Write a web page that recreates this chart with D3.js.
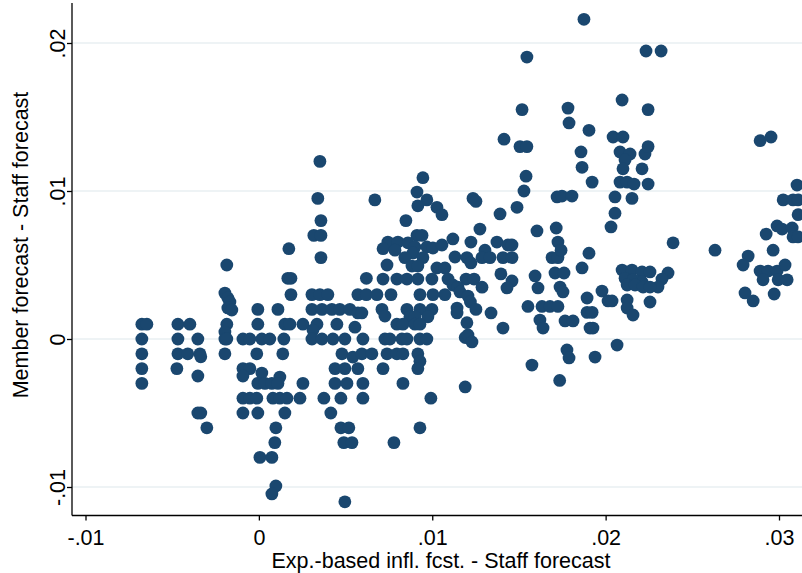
<!DOCTYPE html>
<html>
<head>
<meta charset="utf-8">
<script src="https://cdn.jsdelivr.net/npm/d3@7/dist/d3.min.js"></script>
<style>
  html, body { margin: 0; padding: 0; background: #fff; }
  svg { display: block; }
  text { font-family: "Liberation Sans", Arial, sans-serif; fill: #000; }
</style>
</head>
<body>
<svg id="chart" width="802" height="573"></svg>
<script>
// Tick values and labels
const xTicks = [-0.01, 0, 0.01, 0.02, 0.03];
const xTickLabels = ["-.01", "0", ".01", ".02", ".03"];
const yTicks = [-0.01, 0, 0.01, 0.02];
const yTickLabels = ["-.01", "0", ".01", ".02"];
const xTitle = "Exp.-based infl. fcst. - Staff forecast";
const yTitle = "Member forecast - Staff forecast";

// Points: [exp.-based infl. fcst. - staff, member - staff]
const points = [
  [-0.00675,0.001],[-0.00675,0],[-0.00675,-0.001],[-0.00675,-0.002],[-0.00675,-0.003],[-0.00646,0.001],
  [-0.00467,0.001],[-0.00398,0.001],[-0.00467,0],[-0.00467,-0.001],[-0.0041,-0.001],[-0.00473,-0.002],
  [-0.00352,0],[-0.0034,-0.001],[-0.00335,-0.0012],[-0.00352,-0.0025],[-0.00352,-0.005],[-0.00335,-0.005],[-0.003,-0.006],
  [-0.00185,0.005],[-0.00196,0.0031],[-0.00179,0.00277],[-0.00167,0.0025],[-0.00179,0.0021],[-0.00156,0.00196],
  [-0.00185,0.001],[-0.00196,0.00047],[-0.00196,0],[-0.00185,0],[-0.00196,-0.001],
  [-0.00092,0],[-0.00052,0],[-0.00092,-0.002],[-0.00052,-0.002],[-0.00092,-0.0025],[-0.00092,-0.004],[-0.00052,-0.004],[-0.00092,-0.005],
  [0.00352,0.012],[0.0034,0.0095],[0.00358,0.008],[0.00317,0.007],[0.00358,0.007],[0.00358,0.0055],[0.00173,0.0061],
  [0.00167,0.0041],[0.00185,0.0041],[0.00185,0.003],[0.00306,0.003],[0.00352,0.003],[0.00398,0.003],[0.0062,0.0041],[0.00571,0.003],[0.0062,0.003],
  [-0.00006,0.002],[0.0011,0.002],[0.00306,0.002],[0.00364,0.002],[0.00421,0.002],[0.00467,0.002],[0.00525,0.002],[0.00571,0.00176],[0.00594,0.00176],
  [-0.00006,0.001],[0.0015,0.001],[0.00179,0.001],[0.00254,0.001],[0.00335,0.001],[0.0045,0.001],[0.00554,0.0008],[0.00312,0.0006],
  [0.00017,0],[0.00063,0],[0.00144,0],[0.00306,0],[0.00364,0],[0.00427,0],[0.00496,0],[0.006,0],
  [-0.00012,-0.001],[0.00138,-0.001],[0.00479,-0.001],[0.00542,-0.00122],[0.00594,-0.001],
  [0.00439,-0.002],[0.00496,-0.002],[0.00571,-0.002],
  [0.00017,-0.0023],[-0.00006,-0.003],[0.00035,-0.003],[0.00075,-0.003],[0.00121,-0.00257],[0.0011,-0.003],[0.00254,-0.003],[0.00439,-0.003],[0.00508,-0.003],[0.006,-0.003],
  [-0.00012,-0.004],[0.00081,-0.004],[0.00121,-0.004],[0.00162,-0.004],[0.00237,-0.004],[0.00375,-0.004],[0.00473,-0.004],[0.006,-0.004],
  [-0.00006,-0.005],[0.0015,-0.005],[0.00415,-0.005],
  [0.00098,-0.006],[0.00473,-0.006],[0.00519,-0.006],
  [0.00092,-0.007],[0.0049,-0.007],[0.00537,-0.007],
  [0.00006,-0.008],[0.00075,-0.008],
  [0.00098,-0.00993],[0.00075,-0.01047],
  [0.00496,-0.011],
  [0.00946,0.0109],[0.00912,0.00993],[0.00969,0.0094],[0.00917,0.009],[0.01027,0.0089],[0.01056,0.0084],[0.00669,0.0094],[0.00848,0.008],
  [0.00912,0.007],[0.00941,0.007],[0.01119,0.00676],
  [0.00744,0.00655],[0.00802,0.00655],[0.0086,0.0065],[0.00716,0.0061],[0.00785,0.006],
  [0.009,0.00622],[0.00969,0.00622],[0.01004,0.00615],[0.01056,0.00635],[0.00889,0.00581],
  [0.00946,0.0055],[0.00842,0.0055],[0.01131,0.00554],
  [0.00739,0.005],[0.00883,0.00493],[0.00917,0.00493],[0.01027,0.0048],[0.01073,0.0048],
  [0.00716,0.00405],[0.00796,0.00405],[0.00854,0.00405],[0.00917,0.00405],[0.00998,0.00405],[0.01091,0.00405],[0.01195,0.00405],
  [0.01119,0.00365],[0.01148,0.00351],
  [0.00681,0.003],[0.00762,0.003],[0.00929,0.003],[0.01004,0.003],[0.01073,0.003],[0.0116,0.00318],[0.01206,0.0029],[0.0122,0.0025],
  [0.0071,0.002],[0.00727,0.00155],[0.00854,0.002],[0.00929,0.002],[0.00998,0.002],[0.01143,0.00209],[0.01143,0.00176],
  [0.00871,0.0015],[0.009,0.0015],[0.00975,0.0015],
  [0.00796,0.001],[0.00831,0.001],[0.009,0.001],[0.00929,0.001],
  [0.00727,0],[0.00756,0],[0.00825,0],[0.00854,0],[0.00929,0],[0.00969,0],[0.0119,0.0001],
  [0.00652,-0.001],[0.00739,-0.001],[0.00796,-0.001],[0.00831,-0.001],[0.00917,-0.001],[0.00929,-0.0015],[0.00716,-0.002],[0.00917,-0.002],
  [0.00831,-0.003],[0.0119,-0.00324],[0.00992,-0.004],[0.00929,-0.006],[0.00779,-0.007],
  [0.01546,0.01905],[0.01518,0.0155],[0.01414,0.0135],[0.01506,0.013],[0.01546,0.013],[0.01541,0.011],[0.01529,0.01],
  [0.01235,0.0095],[0.01252,0.0093],[0.01489,0.0089],[0.01391,0.00845],[0.01275,0.00743],[0.01604,0.0073],[0.0172,0.0096],[0.01715,0.0075],
  [0.01223,0.00655],[0.01373,0.00655],[0.01437,0.00635],[0.0146,0.00635],[0.01304,0.006],[0.01287,0.0055],[0.01333,0.0055],[0.01408,0.0055],
  [0.0146,0.0055],[0.012,0.0055],[0.01223,0.00514],[0.01691,0.0055],[0.01725,0.0055],[0.01725,0.00655],
  [0.01396,0.0044],[0.0146,0.00392],[0.01431,0.00345],[0.01593,0.00426],[0.01708,0.00446],[0.0161,0.00345],[0.01241,0.00405],[0.01287,0.0035],
  [0.01252,0.002],[0.01339,0.00176],[0.01552,0.0022],[0.01633,0.0022],[0.01679,0.0022],[0.01725,0.0022],[0.01621,0.00128],[0.01639,0.00074],
  [0.012,0.0011],[0.01408,0.00074],[0.01206,0.00027],[0.01229,-0.0002],[0.01575,-0.00176],[0.01735,-0.0028],
  [0.01875,0.0216],[0.02233,0.01946],[0.0232,0.01946],[0.01783,0.0156],[0.02095,0.01615],[0.02245,0.0155],[0.01789,0.0146],[0.01904,0.0141],
  [0.02043,0.01365],[0.021,0.01365],[0.01858,0.01264],[0.02083,0.01264],[0.02141,0.0125],[0.02112,0.0121],[0.02227,0.0125],[0.02245,0.013],
  [0.01864,0.0116],[0.021,0.0115],[0.0221,0.0115],[0.01922,0.0106],[0.02083,0.0106],[0.02124,0.0106],[0.02164,0.01047],[0.02245,0.01047],
  [0.01748,0.00966],[0.01806,0.00966],[0.02054,0.0096],[0.02152,0.0095],
  [0.02054,0.0085],[0.02031,0.00757],[0.01743,0.006],[0.01904,0.0058],[0.01864,0.0048],[0.0176,0.00446],
  [0.02095,0.00466],[0.02152,0.00466],[0.0221,0.00453],[0.02256,0.00453],
  [0.02112,0.0041],[0.02158,0.004],[0.0221,0.00385],[0.02124,0.00365],[0.0217,0.00365],[0.02216,0.00351],
  [0.01737,0.00351],[0.01754,0.00318],[0.01979,0.00324],[0.02014,0.00257],[0.02037,0.00257],[0.01893,0.00277],[0.02124,0.00264],[0.02124,0.00209],[0.02158,0.00162],[0.02256,0.0025],
  [0.01766,0.00122],[0.01812,0.00122],[0.01893,0.0018],[0.01922,0.0018],[0.0191,0.00074],[0.01927,0.00074],[0.02066,-0.00041],[0.01777,-0.00074],[0.01789,-0.00128],[0.01939,-0.00122],
  [0.02891,0.0134],[0.02954,0.01365],[0.03104,0.0104],[0.03024,0.0094],[0.03081,0.0094],[0.0311,0.0094],[0.0311,0.0084],[0.02989,0.00764],[0.03018,0.00743],
  [0.03076,0.0075],[0.03081,0.0069],[0.0311,0.0069],[0.02926,0.00709],[0.02389,0.0065],[0.02631,0.006],[0.02966,0.006],[0.02822,0.0056],[0.02793,0.005],
  [0.02891,0.00459],[0.02937,0.00459],[0.02989,0.00459],[0.03035,0.005],[0.02908,0.004],[0.02995,0.004],[0.03047,0.004],[0.02804,0.00311],[0.02851,0.00257],[0.02972,0.00304],
  [0.0236,0.00446],[0.02325,0.00405],[0.02302,0.00351],[0.02256,0.00351]
];

const W = 802, H = 573;
const plot = { left: 72, right: 802, top: 3, bottom: 515.5 };
const fontSize = 21.5;
const svg = d3.select("#chart");

const x = d3.scaleLinear().domain([-0.01, 0.03]).range([85.5, 779]);
const y = d3.scaleLinear().domain([-0.01, 0.02]).range([487, 43]);

// gridlines
svg.append("g").selectAll("line").data(yTicks).join("line")
  .attr("x1", plot.left).attr("x2", plot.right)
  .attr("y1", d => y(d)).attr("y2", d => y(d))
  .attr("stroke", "#e9eff2").attr("stroke-width", 1.5);

// points
svg.append("defs").append("clipPath").attr("id", "clip")
  .append("rect").attr("x", plot.left).attr("y", 0)
  .attr("width", plot.right - plot.left).attr("height", plot.bottom);
svg.append("g").attr("clip-path", "url(#clip)")
  .selectAll("circle").data(points).join("circle")
  .attr("cx", d => x(d[0])).attr("cy", d => y(d[1]))
  .attr("r", 6.4).attr("fill", "#1a476f");

// x axis
const xAxis = d3.axisBottom(x).tickValues(xTicks)
  .tickFormat((d, i) => xTickLabels[i]).tickSize(5).tickPadding(4);
const gx = svg.append("g").attr("transform", `translate(0,${plot.bottom})`).call(xAxis);
gx.select(".domain").remove();
gx.append("line").attr("x1", plot.left).attr("x2", plot.right).attr("y1", 0).attr("y2", 0)
  .attr("stroke", "#000").attr("stroke-width", 1.3);
gx.selectAll(".tick line").attr("stroke", "#000").attr("stroke-width", 1.3);
gx.selectAll(".tick text").attr("font-size", fontSize).attr("fill", "#000")
  .attr("font-family", "Liberation Sans, Arial, sans-serif")
  .attr("dy", null).attr("y", 29);

// y axis
const yAxis = d3.axisLeft(y).tickValues(yTicks)
  .tickFormat((d, i) => yTickLabels[i]).tickSize(5).tickPadding(4);
const gy = svg.append("g").attr("transform", `translate(${plot.left},0)`).call(yAxis);
gy.select(".domain").remove();
gy.append("line").attr("x1", 0).attr("x2", 0).attr("y1", plot.top).attr("y2", plot.bottom)
  .attr("stroke", "#000").attr("stroke-width", 1.3);
gy.selectAll(".tick line").attr("stroke", "#000").attr("stroke-width", 1.3);
gy.selectAll(".tick text")
  .attr("font-size", fontSize).attr("fill", "#000")
  .attr("font-family", "Liberation Sans, Arial, sans-serif")
  .attr("text-anchor", "middle").attr("dy", 0).attr("x", null)
  .attr("transform", "translate(-7,0) rotate(-90)");

// titles
svg.append("text").attr("x", 441).attr("y", 568).attr("text-anchor", "middle")
  .attr("font-size", fontSize).text(xTitle);
svg.append("text").attr("transform", "translate(28,245) rotate(-90)")
  .attr("text-anchor", "middle").attr("font-size", fontSize).text(yTitle);
</script>
</body>
</html>
